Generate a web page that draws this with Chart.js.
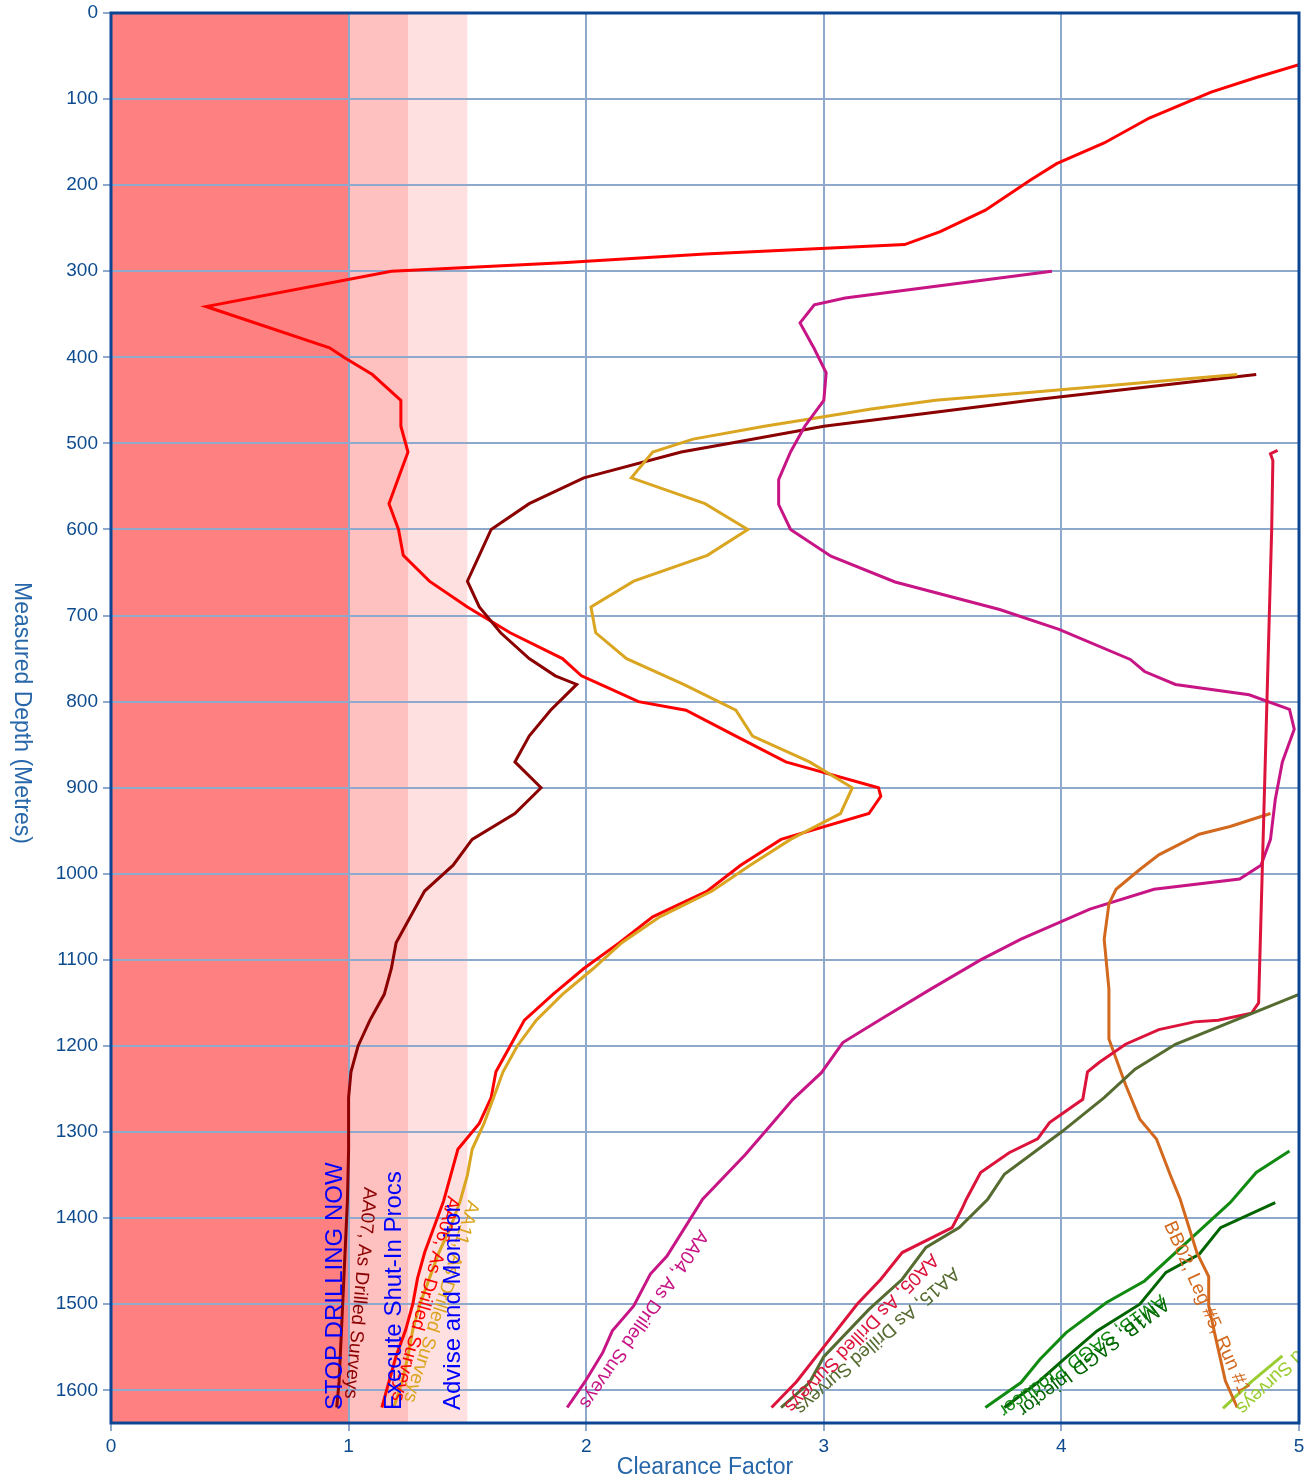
<!DOCTYPE html>
<html>
<head>
<meta charset="utf-8">
<title>Clearance Factor vs Measured Depth</title>
<script src="https://cdn.jsdelivr.net/npm/chart.js@4.4.1/dist/chart.umd.min.js"></script>
<style>
  html, body { margin: 0; padding: 0; background: #fff; }
</style>
</head>
<body>
<canvas id="cf" width="1315" height="1481"></canvas>
<script>
// measured depth (m) and clearance factor for each offset well
const aa06Depth = [60, 75, 92, 122, 151, 175, 194, 229, 254, 269, 280, 290, 300, 341, 389, 400, 420, 450, 480, 510, 540, 570, 600, 630, 660, 690, 720, 750, 770, 780, 800, 810, 840, 870, 900, 910, 930, 960, 990, 1020, 1050, 1080, 1110, 1140, 1170, 1200, 1230, 1260, 1290, 1320, 1350, 1380, 1410, 1440, 1470, 1500, 1530, 1560, 1590, 1620];
const aa06CF = [5.0, 4.82, 4.63, 4.37, 4.18, 3.98, 3.87, 3.68, 3.49, 3.34, 2.5, 1.9, 1.18, 0.4, 0.92, 0.98, 1.1, 1.22, 1.22, 1.25, 1.21, 1.17, 1.21, 1.23, 1.34, 1.5, 1.68, 1.9, 1.98, 2.06, 2.22, 2.42, 2.63, 2.84, 3.23, 3.24, 3.19, 2.82, 2.65, 2.51, 2.28, 2.14, 1.99, 1.86, 1.74, 1.68, 1.62, 1.6, 1.55, 1.46, 1.43, 1.4, 1.36, 1.32, 1.29, 1.27, 1.24, 1.2, 1.17, 1.14];

const aa07Depth = [420, 450, 480, 500, 510, 540, 570, 600, 630, 660, 690, 720, 750, 770, 780, 810, 840, 870, 900, 930, 960, 990, 1020, 1050, 1080, 1110, 1140, 1170, 1200, 1230, 1260, 1320, 1380, 1440, 1500, 1560, 1590, 1620];
const aa07CF = [4.82, 3.87, 3.0, 2.6, 2.4, 1.99, 1.76, 1.6, 1.55, 1.5, 1.55, 1.64, 1.76, 1.87, 1.96, 1.85, 1.76, 1.7, 1.81, 1.7, 1.52, 1.44, 1.32, 1.26, 1.2, 1.18, 1.15, 1.09, 1.04, 1.01, 1.0, 1.0, 0.995, 0.985, 0.975, 0.965, 0.96, 0.95];

const aa11Depth = [420, 440, 450, 460, 470, 480, 495, 510, 540, 570, 600, 630, 660, 690, 720, 750, 780, 810, 840, 870, 900, 930, 960, 990, 1020, 1050, 1080, 1110, 1140, 1170, 1200, 1230, 1260, 1290, 1320, 1350, 1380, 1410, 1440, 1470, 1500, 1530, 1560, 1590, 1620];
const aa11CF = [4.74, 3.9, 3.47, 3.2, 2.98, 2.75, 2.45, 2.28, 2.19, 2.5, 2.68, 2.51, 2.2, 2.02, 2.04, 2.17, 2.41, 2.63, 2.7, 2.94, 3.12, 3.07, 2.86, 2.69, 2.53, 2.31, 2.15, 2.03, 1.9, 1.79, 1.71, 1.65, 1.61, 1.57, 1.52, 1.5, 1.47, 1.43, 1.38, 1.34, 1.3, 1.27, 1.25, 1.225, 1.19];

const aa04Depth = [300, 331, 339, 360, 390, 418, 450, 480, 510, 542, 571, 600, 631, 661, 693, 716, 751, 765, 780, 792, 809, 832, 870, 914, 960, 990, 1006, 1018, 1041, 1076, 1100, 1134, 1169, 1196, 1231, 1262, 1291, 1326, 1378, 1444, 1465, 1502, 1531, 1556, 1590, 1620];
const aa04CF = [3.96, 3.09, 2.96, 2.9, 2.96, 3.01, 3.0, 2.92, 2.86, 2.81, 2.81, 2.86, 3.03, 3.3, 3.74, 3.99, 4.29, 4.35, 4.48, 4.79, 4.96, 4.98, 4.93, 4.9, 4.88, 4.84, 4.75, 4.39, 4.12, 3.83, 3.66, 3.45, 3.24, 3.08, 2.99, 2.87, 2.78, 2.67, 2.49, 2.34, 2.27, 2.2, 2.11, 2.07, 1.995, 1.92];

const aa05Depth = [508, 512, 520, 600, 700, 800, 900, 1000, 1100, 1150, 1162, 1170, 1172, 1181, 1198, 1219, 1230, 1262, 1289, 1308, 1324, 1347, 1378, 1390, 1411, 1440, 1471, 1500, 1553, 1590, 1620];
const aa05CF = [4.91, 4.88, 4.89, 4.885, 4.875, 4.865, 4.855, 4.845, 4.835, 4.83, 4.8, 4.66, 4.56, 4.41, 4.27, 4.16, 4.11, 4.09, 3.95, 3.9, 3.78, 3.66, 3.6, 3.58, 3.54, 3.33, 3.24, 3.14, 2.99, 2.885, 2.78];

const aa15Depth = [1140, 1198, 1227, 1260, 1300, 1349, 1378, 1411, 1434, 1471, 1506, 1561, 1591, 1620];
const aa15CF = [5.0, 4.48, 4.31, 4.18, 4.0, 3.76, 3.69, 3.57, 3.43, 3.33, 3.19, 3.0, 2.94, 2.82];

const bb02Depth = [930, 945, 954, 978, 995, 1018, 1035, 1076, 1134, 1192, 1245, 1285, 1308, 1351, 1378, 1440, 1468, 1502, 1540, 1589, 1620];
const bb02CF = [4.88, 4.71, 4.58, 4.41, 4.33, 4.23, 4.2, 4.18, 4.2, 4.2, 4.27, 4.33, 4.4, 4.46, 4.5, 4.57, 4.62, 4.62, 4.65, 4.69, 4.74];

const am1bProdDepth = [1322, 1347, 1382, 1425, 1473, 1498, 1533, 1564, 1591, 1620];
const am1bProdCF = [4.96, 4.82, 4.71, 4.54, 4.35, 4.19, 4.02, 3.91, 3.83, 3.68];

const am1bInjDepth = [1382, 1411, 1442, 1463, 1500, 1531, 1564, 1591, 1620];
const am1bInjCF = [4.9, 4.67, 4.58, 4.44, 4.33, 4.15, 4.01, 3.9, 3.76];

const aa16Depth = [1560, 1590, 1621];
const aa16CF = [4.93, 4.8, 4.68];

// risk zones on the clearance factor axis
const zoneEdges = [0, 1, 1.25, 1.5];
const zoneColors = ["#ff8080", "#ffc0c0", "#ffe0e0"];
const zoneLabels = ["STOP DRILLING NOW", "Execute Shut-In Procs", "Advise and Monitor"];

const xTicks = [0, 1, 2, 3, 4, 5];
const depthMax = 1638;

function toPoints(depths, cfs) {
  return depths.map((d, i) => ({ x: cfs[i], y: d }));
}

function wellLine(label, depths, cfs, color) {
  return {
    label: label,
    data: toPoints(depths, cfs),
    borderColor: color,
    backgroundColor: color,
    borderWidth: 3,
    pointRadius: 0,
    tension: 0,
    fill: false,
  };
}

const datasets = [
  wellLine("AA15, As Drilled Surveys", aa15Depth, aa15CF, "#556b2f"),
  wellLine("AA05, As Drilled Surveys", aa05Depth, aa05CF, "#dc143c"),
  wellLine("BB02, Leg #5, Run #1", bb02Depth, bb02CF, "#d2691e"),
  wellLine("AM1B, SAGD Producer", am1bProdDepth, am1bProdCF, "#108a10"),
  wellLine("AM1B, SAGD Injector", am1bInjDepth, am1bInjCF, "#006400"),
  wellLine("AA16, As Drilled Surveys", aa16Depth, aa16CF, "#9acd32"),
  wellLine("AA04, As Drilled Surveys", aa04Depth, aa04CF, "#c71585"),
  wellLine("AA11, As Drilled Surveys", aa11Depth, aa11CF, "#daa520"),
  wellLine("AA07, As Drilled Surveys", aa07Depth, aa07CF, "#8b0000"),
  wellLine("AA06, As Drilled Surveys", aa06Depth, aa06CF, "#ff0000"),
];

// coloured zones go under the grid
const zonePlugin = {
  id: "zones",
  beforeDraw(chart) {
    const { ctx, chartArea, scales } = chart;
    ctx.save();
    for (let i = 0; i < zoneColors.length; i++) {
      const x0 = scales.x.getPixelForValue(zoneEdges[i]);
      const x1 = scales.x.getPixelForValue(zoneEdges[i + 1]);
      ctx.fillStyle = zoneColors[i];
      ctx.fillRect(x0, chartArea.top, x1 - x0, chartArea.bottom - chartArea.top);
    }
    ctx.restore();
  },
};

// well names along the last segment, zone names, frame and the y title
const labelPlugin = {
  id: "labels",
  afterDatasetsDraw(chart) {
    const { ctx, chartArea, scales } = chart;
    ctx.save();
    ctx.beginPath();
    ctx.rect(chartArea.left, chartArea.top, chartArea.right - chartArea.left, chartArea.bottom - chartArea.top);
    ctx.clip();

    ctx.font = "19px 'Liberation Sans', Arial, sans-serif";
    chart.data.datasets.forEach((ds) => {
      const n = ds.data.length;
      const a = ds.data[n - 2];
      const b = ds.data[n - 1];
      const ax = scales.x.getPixelForValue(a.x);
      const ay = scales.y.getPixelForValue(a.y);
      const bx = scales.x.getPixelForValue(b.x);
      const by = scales.y.getPixelForValue(b.y);
      ctx.save();
      ctx.translate(bx, by);
      ctx.rotate(Math.atan2(by - ay, bx - ax));
      ctx.fillStyle = ds.borderColor;
      ctx.textAlign = "right";
      ctx.textBaseline = "bottom";
      ctx.fillText(ds.label, -10, -3);
      ctx.restore();
    });

    ctx.font = "24px 'Liberation Sans', Arial, sans-serif";
    ctx.fillStyle = "#0000ff";
    zoneLabels.forEach((txt, i) => {
      const x = scales.x.getPixelForValue(zoneEdges[i + 1]);
      ctx.save();
      ctx.translate(x - 7, chartArea.bottom - 13);
      ctx.rotate(-Math.PI / 2);
      ctx.textAlign = "left";
      ctx.textBaseline = "alphabetic";
      ctx.fillText(txt, 0, 0);
      ctx.restore();
    });
    ctx.restore();

    ctx.save();
    ctx.strokeStyle = "#0b4694";
    ctx.lineWidth = 3;
    ctx.strokeRect(chartArea.left, chartArea.top, chartArea.right - chartArea.left, chartArea.bottom - chartArea.top);

    ctx.font = "23px 'Liberation Sans', Arial, sans-serif";
    ctx.fillStyle = "#2767a9";
    ctx.translate(21, (chartArea.top + chartArea.bottom) / 2 - 5);
    ctx.rotate(Math.PI / 2);
    ctx.textAlign = "center";
    ctx.textBaseline = "middle";
    ctx.fillText("Measured Depth (Metres)", 0, 0);
    ctx.restore();
  },
};

const gridStyle = {
  color: "#8ea9cb",
  lineWidth: 2,
  tickLength: 8,
};

new Chart(document.getElementById("cf"), {
  type: "line",
  data: { datasets: datasets },
  options: {
    responsive: false,
    animation: false,
    devicePixelRatio: 1,
    layout: { padding: { top: 13, right: 16, left: 0, bottom: 0 } },
    plugins: {
      legend: { display: false },
      tooltip: { enabled: false },
    },
    scales: {
      x: {
        type: "linear",
        min: 0,
        max: 5,
        afterFit: (scale) => {
          scale.height = 58;
          scale.paddingLeft = 0;
          scale.paddingRight = 0;
        },
        afterBuildTicks: (scale) => { scale.ticks = xTicks.map((v) => ({ value: v })); },
        grid: gridStyle,
        border: { display: false },
        ticks: {
          color: "#0e4b8e",
          font: { size: 19, family: "'Liberation Sans', Arial, sans-serif" },
          padding: 4,
          callback: (v) => String(v),
        },
        title: {
          display: true,
          text: "Clearance Factor",
          color: "#2767a9",
          font: { size: 23, family: "'Liberation Sans', Arial, sans-serif" },
          padding: { top: 0, bottom: 0 },
        },
      },
      y: {
        type: "linear",
        reverse: true,
        min: 0,
        max: depthMax,
        afterFit: (scale) => {
          scale.width = 111;
          scale.paddingTop = 0;
          scale.paddingBottom = 0;
        },
        grid: gridStyle,
        border: { display: false },
        ticks: {
          stepSize: 100,
          includeBounds: false,
          color: "#0e4b8e",
          font: { size: 19, family: "'Liberation Sans', Arial, sans-serif" },
          padding: 5,
          callback: (v) => String(v),
        },
        title: { display: false },
      },
    },
  },
  plugins: [zonePlugin, labelPlugin],
});
</script>
</body>
</html>
